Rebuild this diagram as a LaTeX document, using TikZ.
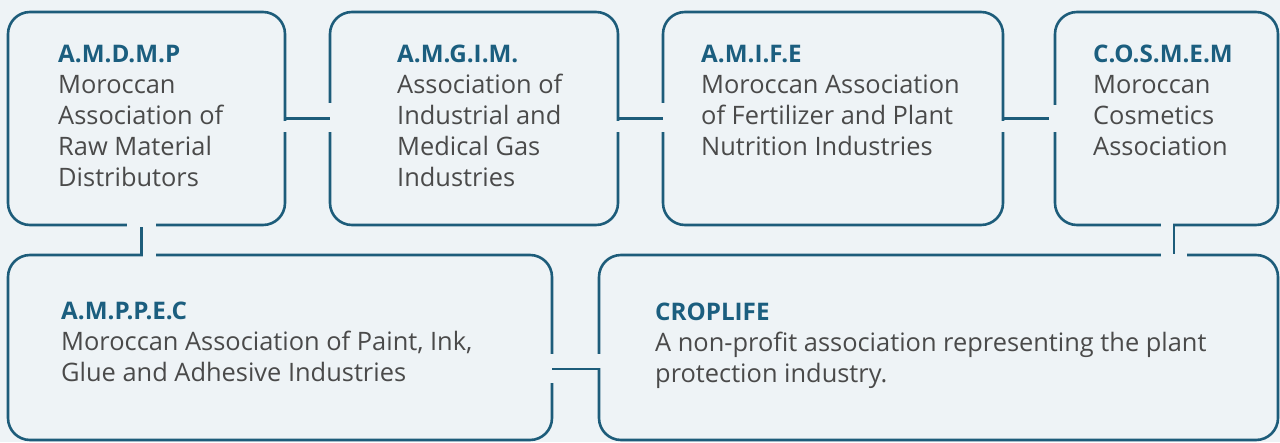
\documentclass[tikz,border=0pt]{standalone}
\usepackage{fontspec}
\setmainfont{Open Sans}
\usetikzlibrary{positioning,calc}

\definecolor{paper}{RGB}{238,243,246}
\definecolor{frame}{RGB}{29,92,122}
\definecolor{heading}{RGB}{27,94,127}
\definecolor{copytext}{RGB}{74,74,74}

\tikzset{
  box/.style={draw=frame, line width=2.6pt, rounded corners=22pt,
    inner sep=0pt, outer sep=0pt},
  link/.style={draw=frame, line width=2.6pt, line join=miter},
  gap/.style={draw=paper, line width=5pt},
  blurb/.style={inner sep=0pt, align=left, text=copytext,
    font=\fontsize{25.4}{31}\selectfont},
}
\newcommand{\head}[1]{{\fontsize{24.2}{31}\selectfont\bfseries\color{heading}#1}}

\begin{document}
\begin{tikzpicture}[x=1pt,y=-1pt]
\fill[paper] (0,0) rectangle (1280,442);
\useasboundingbox (0,0) rectangle (1280,442);

% the six member boxes
\node[box, minimum width=277pt, minimum height=213pt] (amdmp) at (146.5,118.5) {};
\node[box, minimum width=288pt, minimum height=213pt] (amgim) at (474,118.5) {};
\node[box, minimum width=340pt, minimum height=213pt] (amife) at (833,118.5) {};
\node[box, minimum width=223pt, minimum height=213pt] (cosmem) at (1166.5,118.5) {};
\node[box, minimum width=544pt, minimum height=185pt] (amppec) at (280,347.5) {};
\node[box, minimum width=679pt, minimum height=185pt] (croplife) at (938.5,347.5) {};

% texts
\node[blurb, below right=33pt and 50pt of amdmp.north west] (amdmp-t)
  {\head{A.M.D.M.P}\\Moroccan\\Association of\\Raw Material\\Distributors};
\node[blurb, below right=33pt and 67pt of amgim.north west] (amgim-t)
  {\head{A.M.G.I.M.}\\Association of\\Industrial and\\Medical Gas\\Industries};
\node[blurb, below right=33pt and 38pt of amife.north west] (amife-t)
  {\head{A.M.I.F.E}\\Moroccan Association\\of Fertilizer and Plant\\Nutrition Industries};
\node[blurb, below right=33pt and 38pt of cosmem.north west] (cosmem-t)
  {\head{C.O.S.M.E.M}\\Moroccan\\Cosmetics\\Association};
\node[blurb, below right=47pt and 53pt of amppec.north west] (amppec-t)
  {\head{A.M.P.P.E.C}\\Moroccan Association of Paint, Ink,\\Glue and Adhesive Industries};
\node[blurb, below right=48pt and 56pt of croplife.north west] (croplife-t)
  {\head{CROPLIFE}\\A non-profit association representing the plant\\protection industry.};

% elbow points
\coordinate (k15) at ($(amdmp.south)+(-5,0)$);
\coordinate (k46) at ($(cosmem.south)+(7.5,0)$);
\coordinate (k56) at ($(amppec.east)+(0,21.5)$);
\coordinate (k15b) at (k15 |- amppec.north);
\coordinate (k46b) at (k46 |- croplife.north);
\coordinate (k56b) at (k56 -| croplife.west);

% openings in the frames
\draw[gap] ($(amdmp.east)+(0,2)$) -- ($(amdmp.east)+(0,13.5)$);
\draw[gap] ($(amgim.west)+(0,-15.5)$) -- ($(amgim.west)+(0,13.5)$);
\draw[gap] ($(amgim.east)+(0,2)$) -- ($(amgim.east)+(0,13.5)$);
\draw[gap] ($(amife.west)+(0,-15.5)$) -- ($(amife.west)+(0,13.5)$);
\draw[gap] ($(amife.east)+(0,2)$) -- ($(amife.east)+(0,13.5)$);
\draw[gap] ($(cosmem.west)+(0,-13.5)$) -- ($(cosmem.west)+(0,13.5)$);
\draw[gap] ($(k15)+(-14.5,0)$) -- ($(k15)+(14.5,0)$);
\draw[gap] ($(k15b)+(1.3,0)$) -- ($(k15b)+(14.5,0)$);
\draw[gap] ($(k46)+(-13,0)$) -- ($(k46)+(-1.3,0)$);
\draw[gap] ($(k46b)+(-13,0)$) -- ($(k46b)+(13,0)$);
\draw[gap] ($(k56)+(0,-15)$) -- ($(k56)+(0,14)$);
\draw[gap] ($(k56b)+(0,-15)$) -- ($(k56b)+(0,-1.3)$);

% links
\draw[link] ($(amdmp.east)+(0,-10)$) -- (amdmp.east) -- (amdmp.east -| amgim.west);
\draw[link] ($(amgim.east)+(0,-10)$) -- (amgim.east) -- (amgim.east -| amife.west);
\draw[link] ($(amife.east)+(0,-10)$) -- (amife.east) -- ($(amife.east -| cosmem.west)+(-6,0)$);
\draw[link] ($(k15b)+(-10,0)$) -- (k15b) -- ($(k15)+(0,1.5)$);
\draw[link] ($(k46)+(10,0)$) -- (k46) -- ($(k46b)+(0,-1.5)$);
\draw[link] (k56) -- (k56b) -- ($(k56b)+(0,10)$);
\end{tikzpicture}
\end{document}
